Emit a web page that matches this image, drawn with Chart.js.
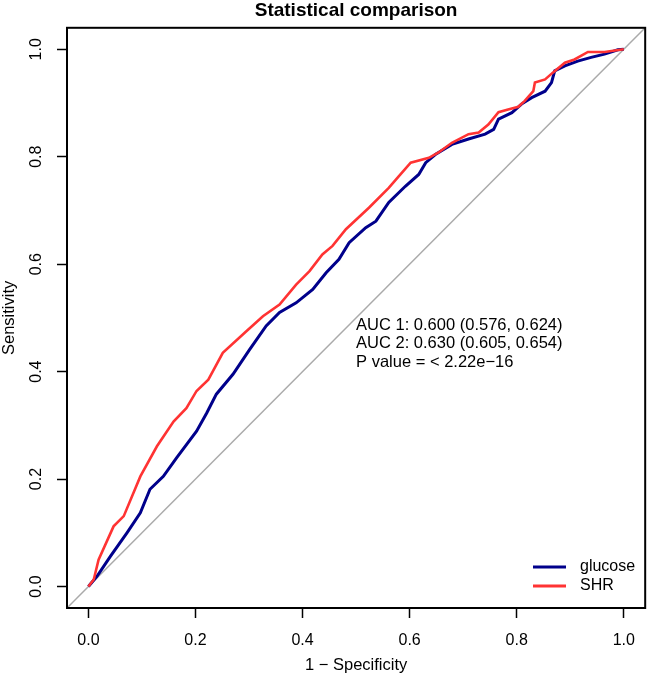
<!DOCTYPE html>
<html>
<head>
<meta charset="utf-8">
<title>Statistical comparison</title>
<script src="https://cdn.jsdelivr.net/npm/chart.js@4.4.1/dist/chart.umd.min.js"></script>
<style>
  html, body { margin: 0; padding: 0; background: #fff; }
  #wrap { width: 648px; height: 679px; }
</style>
</head>
<body>
<div id="wrap"><canvas id="roc" width="648" height="679"></canvas></div>
<script>
'use strict';

// series names
const seriesNames = ['glucose', 'SHR'];

// glucose ROC (1 - specificity / sensitivity)
const glucoseFpr = [0, 0.016, 0.041, 0.072, 0.097, 0.115, 0.140, 0.165, 0.202, 0.221, 0.239, 0.270, 0.301, 0.332, 0.357,
  0.388, 0.419, 0.444, 0.468, 0.487, 0.518, 0.537, 0.561, 0.592, 0.617, 0.630, 0.648, 0.679, 0.710, 0.741, 0.757,
  0.766, 0.791, 0.809, 0.828, 0.853, 0.865, 0.871, 0.890, 0.914, 0.939, 0.964, 0.989, 1];
const glucoseTpr = [0, 0.019, 0.056, 0.100, 0.137, 0.181, 0.205, 0.240, 0.289, 0.323, 0.358, 0.395, 0.441, 0.485, 0.510,
  0.528, 0.553, 0.584, 0.609, 0.640, 0.668, 0.680, 0.715, 0.745, 0.767, 0.789, 0.804, 0.823, 0.833, 0.842, 0.851,
  0.870, 0.882, 0.898, 0.910, 0.922, 0.938, 0.960, 0.969, 0.978, 0.985, 0.991, 0.999, 1];

// SHR ROC
const shrFpr = [0, 0.010, 0.019, 0.047, 0.066, 0.097, 0.128, 0.159, 0.183, 0.202, 0.224, 0.251, 0.295, 0.326, 0.357,
  0.388, 0.413, 0.437, 0.456, 0.481, 0.524, 0.561, 0.580, 0.602, 0.636, 0.654, 0.679, 0.710, 0.729, 0.747, 0.766,
  0.784, 0.803, 0.815, 0.831, 0.834, 0.853, 0.868, 0.890, 0.908, 0.933, 0.964, 1];
const shrTpr = [0, 0.013, 0.050, 0.112, 0.131, 0.205, 0.261, 0.307, 0.332, 0.364, 0.385, 0.435, 0.475, 0.503, 0.525,
  0.562, 0.587, 0.618, 0.634, 0.665, 0.705, 0.742, 0.764, 0.789, 0.798, 0.808, 0.826, 0.842, 0.845, 0.860, 0.883,
  0.888, 0.893, 0.904, 0.922, 0.938, 0.944, 0.957, 0.975, 0.981, 0.995, 0.995, 1];

// axes
const tickValues = [0, 0.2, 0.4, 0.6, 0.8, 1];
const axisLimits = [-0.04, 1.04];

// text in the plot
const aucLines = [
  'AUC 1: 0.600 (0.576, 0.624)',
  'AUC 2: 0.630 (0.605, 0.654)',
  'P value = < 2.22e\u221216',
];

const FONT = '"Liberation Sans", Arial, Helvetica, sans-serif';
const colors = ['#00008b', '#ff3333'];

Chart.defaults.font.family = FONT;
Chart.defaults.color = '#000';

const toPoints = (xs, ys) => xs.map((x, i) => ({ x: x, y: ys[i] }));

// box, AUC text and legend
const extras = {
  id: 'extras',
  afterDatasetsDraw(chart) {
    const { ctx, chartArea: a } = chart;
    ctx.save();
    ctx.strokeStyle = '#000';
    ctx.lineWidth = 2;
    ctx.strokeRect(a.left, a.top, a.right - a.left, a.bottom - a.top);

    ctx.fillStyle = '#000';
    ctx.font = '16.5px ' + FONT;
    ctx.textAlign = 'left';
    ctx.textBaseline = 'alphabetic';
    const tx = chart.scales.x.getPixelForValue(0.5);
    aucLines.forEach((t, i) => ctx.fillText(t, tx, 330 + i * 18.4));

    // legend, bottom right
    ctx.font = '16px ' + FONT;
    ctx.textBaseline = 'middle';
    ctx.lineWidth = 3;
    seriesNames.forEach((name, i) => {
      const ly = 567 + i * 19;
      ctx.strokeStyle = colors[i];
      ctx.beginPath();
      ctx.moveTo(533, ly);
      ctx.lineTo(566, ly);
      ctx.stroke();
      ctx.fillText(name, 580, ly);
    });
    ctx.restore();
  },
};

const fixTicks = (scale) => {
  scale.ticks = tickValues.map((v) => ({ value: v }));
};

new Chart(document.getElementById('roc'), {
  type: 'scatter',
  data: {
    datasets: [
      {
        label: seriesNames[1],
        data: toPoints(shrFpr, shrTpr),
        showLine: true,
        borderColor: colors[1],
        borderWidth: 2.6,
        pointRadius: 0,
        order: 0,
      },
      {
        label: seriesNames[0],
        data: toPoints(glucoseFpr, glucoseTpr),
        showLine: true,
        borderColor: colors[0],
        borderWidth: 3,
        pointRadius: 0,
        order: 1,
      },
      {
        label: 'diagonal',
        data: toPoints(axisLimits, axisLimits),
        showLine: true,
        borderColor: '#aaaaaa',
        borderWidth: 1.5,
        pointRadius: 0,
        order: 2,
      },
    ],
  },
  options: {
    responsive: false,
    animation: false,
    devicePixelRatio: 1,
    layout: { padding: { left: 0, right: 2, top: 0, bottom: 0 } },
    plugins: {
      legend: { display: false },
      tooltip: { enabled: false },
      title: {
        display: true,
        text: 'Statistical comparison',
        fullSize: false,
        color: '#000',
        font: { size: 19, weight: 'bold' },
        padding: { top: -1, bottom: 6 },
      },
    },
    scales: {
      x: {
        type: 'linear',
        min: axisLimits[0],
        max: axisLimits[1],
        afterBuildTicks: fixTicks,
        afterFit(scale) { scale.height = 71; },
        grid: { drawOnChartArea: false, tickLength: 10, tickWidth: 1.5, tickColor: '#000' },
        border: { display: false },
        ticks: { font: { size: 16 }, padding: 13, callback: (v) => v.toFixed(1) },
        title: { display: true, text: '1 \u2212 Specificity', font: { size: 16.5 }, padding: { top: 0, bottom: 4 } },
      },
      y: {
        type: 'linear',
        min: axisLimits[0],
        max: axisLimits[1],
        afterBuildTicks: fixTicks,
        afterFit(scale) { scale.width = 67; },
        grid: { drawOnChartArea: false, tickLength: 10, tickWidth: 1.5, tickColor: '#000' },
        border: { display: false },
        ticks: { font: { size: 16 }, padding: 9, minRotation: 90, maxRotation: 90, crossAlign: 'center', callback: (v) => v.toFixed(1) },
        title: { display: true, text: 'Sensitivity', font: { size: 16.5 }, padding: { top: 0, bottom: 0 } },
      },
    },
  },
  plugins: [extras],
});
</script>
</body>
</html>
